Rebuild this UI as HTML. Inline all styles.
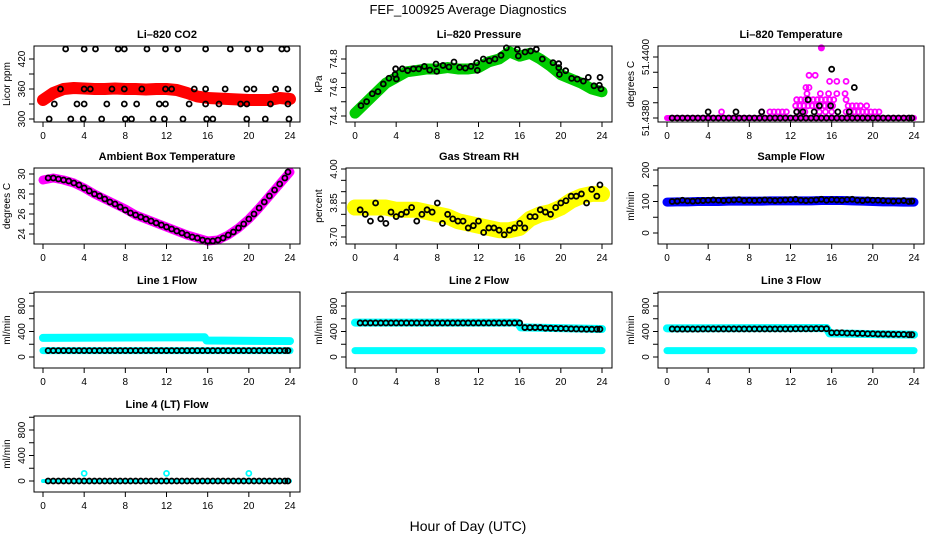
<!DOCTYPE html>
<html><head><meta charset="utf-8">
<style>
html,body{margin:0;padding:0;background:#fff;}
svg{display:block;font-family:"Liberation Sans",Arial,sans-serif;}
</style></head>
<body>
<svg id="chart" width="936" height="540" viewBox="0 0 936 540" xmlns="http://www.w3.org/2000/svg">
<rect width="936" height="540" fill="#fff"/>
<text x="468" y="14" text-anchor="middle" font-size="13">FEF_100925  Average Diagnostics</text>
<text x="468" y="531" text-anchor="middle" font-size="14">Hour of Day (UTC)</text>
</svg>
<script>
// ---------- data ----------
const hours=[0,4,8,12,16,20,24];
const bandT=[0,1,2,3,4,5,6,7,8,9,10,11,12,13,14,15,16,17,18,19,20,21,22,23,24];
const circT=[0.5,1,1.5,2,2.5,3,3.5,4,4.5,5,5.5,6,6.5,7,7.5,8,8.5,9,9.5,10,10.5,11,11.5,12,12.5,13,13.5,14,14.5,15,15.5,16,16.5,17,17.5,18,18.5,19,19.5,20,20.5,21,21.5,22,22.5,23,23.5,23.8];

const co2Band=[338,352,360,362,361,360,360,361,360,360,359,360,360,358,352,345,342,341,340,339,338,338,338,342,340];
const co2CircT=[2.2,4.0,5.1,7.3,7.9,10.1,11.9,13.1,15.8,18.2,19.9,21.1,23.2,23.7, 1.7,4.0,4.6,6.7,7.9,9.6,11.9,12.5,14.7,15.8,17.7,19.8,20.5,22.6,23.8, 1.1,3.3,4.0,6.2,7.9,9.1,11.3,11.9,14.2,15.8,17.1,19.2,19.8,22.1,23.8, 0.6,2.7,3.9,5.7,8.0,8.6,10.7,11.8,13.6,15.9,16.5,19.8,21.6,23.9];
const co2CircV=[440,440,440,440,440,440,440,440,440,440,440,440,440,440, 360,360,360,360,360,360,360,360,360,360,360,360,360,360,360, 330,330,330,330,330,330,330,330,330,330,330,330,330,330,330, 300,300,300,300,300,300,300,300,300,300,300,300,300,300];

const presBand=[74.42,74.49,74.56,74.63,74.67,74.71,74.72,74.73,74.73,74.74,74.73,74.73,74.74,74.78,74.80,74.85,74.82,74.84,74.80,74.75,74.69,74.66,74.63,74.59,74.57];
const presCircT=[0.58,1.13,1.68,2.23,2.75,3.30,3.89,3.95,4.02,4.60,5.12,5.67,6.19,6.74,7.26,7.87,7.94,8.55,9.13,9.62,10.17,10.72,11.27,11.82,11.89,12.47,13.05,13.60,14.19,14.71,15.77,15.87,16.52,17.07,17.62,18.20,19.24,19.79,19.8,19.86,20.47,21.05,21.60,22.19,22.67,23.22,23.74,23.81,23.90];
const presCircV=[74.473,74.501,74.556,74.571,74.625,74.665,74.691,74.731,74.66,74.731,74.719,74.731,74.731,74.748,74.722,74.765,74.713,74.755,74.744,74.779,74.741,74.736,74.748,74.774,74.720,74.800,74.788,74.800,74.826,74.878,74.868,74.821,74.849,74.856,74.868,74.800,74.774,74.767,74.739,74.692,74.718,74.664,74.659,74.645,74.671,74.612,74.616,74.671,74.591];

const tempBand=[51.438,51.438,51.438,51.438,51.438,51.438,51.438,51.438,51.438,51.438,51.438,51.438,51.438,51.438,51.438,51.438,51.438,51.438,51.438,51.438,51.438,51.438,51.438,51.438,51.438];
const tempMagT=[5.3,9.2,10.0,10.4,10.8,11.2,11.6,12.6,13.0,13.4,14.8,15.4,16.0,17.4,17.8,18.2,18.6,19.0,19.4,19.8,20.2,20.6, 12.5,12.9,13.3,13.7,14.1,14.5,14.9,15.3,15.7,16.1,17.6,18.0,18.4,18.8,19.4, 12.6,13.0,13.4,13.8,14.2,14.6,15.0,15.4,15.8,16.2,17.4, 13.6,14.9,15.7,16.5,17.3, 13.5,13.8, 15.8,16.5,17.4, 13.8,14.4];
const tempMagV=[51.4382,51.4382,51.4382,51.4382,51.4382,51.4382,51.4382,51.4382,51.4382,51.4382,51.4382,51.4382,51.4382,51.4382,51.4382,51.4382,51.4382,51.4382,51.4382,51.4382,51.4382,51.4382, 51.4384,51.4384,51.4384,51.4384,51.4384,51.4384,51.4384,51.4384,51.4384,51.4384,51.4384,51.4384,51.4384,51.4384,51.4384, 51.4386,51.4386,51.4386,51.4386,51.4386,51.4386,51.4386,51.4386,51.4386,51.4386,51.4386, 51.4388,51.4388,51.4388,51.4388,51.4388, 51.4390,51.4390, 51.4392,51.4392,51.4392, 51.4394,51.4394];
const tempBigT=[15.0];
const tempBigV=[51.4403];
const tempBlkT=[4.0,6.7,9.2,12.6,13.2,14.3,16.6,17.7,14.8,15.9,13.7,18.2,16.0];
const tempBlkV=[51.4382,51.4382,51.4382,51.4382,51.4382,51.4382,51.4382,51.4382,51.4384,51.4384,51.4386,51.4390,51.4396];
const tempBaseV=[51.438,51.438,51.438,51.438,51.438,51.438,51.438,51.438,51.438,51.438,51.438,51.438,51.438,51.438,51.438,51.438,51.438,51.438,51.438,51.438,51.438,51.438,51.438,51.438,51.438,51.438,51.438,51.438,51.438,51.438,51.438,51.438,51.438,51.438,51.438,51.438,51.438,51.438,51.438,51.438,51.438,51.438,51.438,51.438,51.438,51.438,51.438,51.438];

const ambBand=[29.4,29.6,29.4,29.1,28.6,28.0,27.5,27.0,26.5,25.9,25.5,25.1,24.7,24.3,23.9,23.6,23.3,23.4,23.9,24.6,25.5,26.6,27.8,29.0,30.2];
const ambCirc=[29.6,29.6,29.5,29.4,29.3,29.1,28.9,28.6,28.3,28.0,27.8,27.5,27.2,27.0,26.7,26.4,26.1,25.9,25.7,25.5,25.3,25.1,24.9,24.7,24.5,24.3,24.1,23.9,23.7,23.6,23.4,23.3,23.3,23.4,23.6,23.9,24.2,24.6,25.0,25.5,26.0,26.6,27.2,27.8,28.4,29.0,29.6,30.2];

const rhBand=[3.83,3.83,3.83,3.83,3.82,3.82,3.82,3.81,3.80,3.79,3.77,3.76,3.75,3.74,3.73,3.73,3.74,3.78,3.80,3.81,3.83,3.86,3.88,3.89,3.89];
const rhCirc=[3.82,3.80,3.77,3.85,3.78,3.76,3.81,3.79,3.80,3.81,3.83,3.77,3.80,3.82,3.81,3.85,3.76,3.80,3.78,3.77,3.77,3.74,3.75,3.77,3.72,3.74,3.74,3.73,3.71,3.73,3.74,3.76,3.74,3.79,3.79,3.82,3.81,3.80,3.83,3.85,3.86,3.88,3.88,3.89,3.85,3.91,3.88,3.93];

const sfBand=[98,99,99,100,100,100,101,101,101,101,102,102,102,102,102,103,103,103,102,101,100,99,99,98,98];
const sfCirc=[100,101,104,102,101,102,103,104,105,104,103,104,105,106,103,104,103,104,105,104,103,104,105,106,107,104,103,104,105,107,104,106,105,104,106,107,104,103,105,104,104,103,102,101,102,103,100,101];

const l1UpT=[0,15.7,15.9,24], l1UpV=[300,310,258,250];
const l1LoT=[0,24], l1LoV=[100,100];
const l1Circ=[100,100,100,100,100,100,100,100,100,100,100,100,100,100,100,100,100,100,100,100,100,100,100,100,100,100,100,100,100,100,100,100,100,100,100,100,100,100,100,100,100,100,100,100,100,100,100,100];
const l2UpT=[0,15.8,16.1,24], l2UpV=[540,540,465,440];
const l2LoT=[0,24], l2LoV=[100,100];
const l2Circ=[534,534,534,534,534,534,534,534,534,534,534,534,534,534,534,534,534,534,534,534,534,534,534,534,534,534,534,534,534,534,534,534,462,462,462,462,452,452,448,448,445,442,440,438,436,436,436,436];
const l3UpT=[0,15.5,15.8,24], l3UpV=[450,455,370,350];
const l3LoT=[0,24], l3LoV=[100,100];
const l3Circ=[440,438,438,438,438,438,440,440,440,440,440,440,440,440,440,440,440,440,440,440,440,440,440,440,442,442,442,442,444,444,444,380,380,380,375,375,370,370,365,365,360,360,358,356,355,355,350,350];
const l4T=[0,24], l4V=[0,0];
const l4ExT=[4,12,20], l4ExV=[120,120,120];
const l4Circ=[0,0,0,0,0,0,0,0,0,0,0,0,0,0,0,0,0,0,0,0,0,0,0,0,0,0,0,0,0,0,0,0,0,0,0,0,0,0,0,0,0,0,0,0,0,0,0,0];

// ---------- drawing ----------
const svg=document.getElementById('chart');
const NS='http://www.w3.org/2000/svg';
function mk(tag,attrs,parent){const e=document.createElementNS(NS,tag);for(const k in attrs)e.setAttribute(k,attrs[k]);(parent||svg).appendChild(e);return e;}

const colL=[34,346,658], rowT=[46,168,292,416], BW=266, BH=76;

function panel(cfg){
  const L=colL[cfg.col], T=rowT[cfg.row];
  const g=mk('g',{});
  
  
  const xs=t=>L+9+t*(247/24);
  const ys=v=>T+cfg.p0+(v-cfg.v0)*(cfg.p1-cfg.p0)/(cfg.v1-cfg.v0);
  cfg.draw(g,xs,ys);
  const box=mk('rect',{x:L,y:T,width:BW,height:BH,fill:'none',stroke:'#000','stroke-width':1},g);
  
  
  const tt=mk('text',{x:L+BW/2,y:T-8,'text-anchor':'middle','font-size':11,'font-weight':'bold'},g);
  tt.textContent=cfg.title;
  
  
  const xa=mk('g',{},g);
  
  
  mk('line',{x1:xs(0),x2:xs(24),y1:T+BH,y2:T+BH,stroke:'#000'},xa);
  hours.forEach(h=>{
    mk('line',{x1:xs(h),x2:xs(h),y1:T+BH,y2:T+BH+5,stroke:'#000'},xa);
    const t=mk('text',{x:xs(h),y:T+BH+17,'text-anchor':'middle','font-size':10},xa);t.textContent=h;
  });
  const ya=mk('g',{},g);
  
  
  const tk=cfg.ticks;
  mk('line',{x1:L,x2:L,y1:ys(tk[0]),y2:ys(tk[tk.length-1]),stroke:'#000'},ya);
  tk.forEach(v=>{mk('line',{x1:L,x2:L-5,y1:ys(v),y2:ys(v),stroke:'#000'},ya);});
  cfg.labels.forEach((v,i)=>{
    const y=ys(v), x=L-9;
    const t=mk('text',{x:x,y:y,'text-anchor':'middle','font-size':10,transform:`rotate(-90 ${x} ${y})`},ya);
    t.textContent=cfg.labelText[i];
  });
  const yt=mk('text',{x:L-24,y:T+BH/2,'text-anchor':'middle','font-size':10,transform:`rotate(-90 ${L-24} ${T+BH/2})`},g);
  yt.textContent=cfg.ytitle;
  
  
}

function band(g,xs,ys,T,V,color,w,name){
  const p=mk('polyline',{points:T.map((t,i)=>xs(t)+','+ys(V[i])).join(' '),fill:'none',stroke:color,'stroke-width':w,'stroke-linejoin':'round','stroke-linecap':'round'},g);
  
  
}
function circles(g,xs,ys,T,V,color,name,r){
  T.forEach((t,i)=>{
    const c=mk('circle',{cx:xs(t),cy:ys(V[i]),r:r||2.5,fill:'none',stroke:color,'stroke-width':1.8},g);
    
    
  });
}

panel({name:'panel-co2',col:0,row:0,title:'Li\u2013820 CO2',ytitle:'Licor ppm',v0:300,p0:73,v1:420,p1:13,
 ticks:[300,330,360,390,420],labels:[300,360,420],labelText:['300','360','420'],
 draw:(g,xs,ys)=>{band(g,xs,ys,bandT,co2Band,'#ff0000',12,'co2-band');circles(g,xs,ys,co2CircT,co2CircV,'#000','co2-point');}});
panel({name:'panel-pressure',col:1,row:0,title:'Li\u2013820 Pressure',ytitle:'kPa',v0:74.4,p0:70,v1:74.8,p1:13,
 ticks:[74.4,74.5,74.6,74.7,74.8],labels:[74.4,74.6,74.8],labelText:['74.4','74.6','74.8'],
 draw:(g,xs,ys)=>{band(g,xs,ys,bandT,presBand,'#00cc00',11,'pressure-band');circles(g,xs,ys,presCircT,presCircV,'#000','pressure-point');}});
panel({name:'panel-temperature',col:2,row:0,title:'Li\u2013820 Temperature',ytitle:'degrees C',v0:51.438,p0:72,v1:51.44,p1:11,
 ticks:[51.438,51.4385,51.439,51.4395,51.44],labels:[51.438,51.44],labelText:['51.4380','51.4400'],
 draw:(g,xs,ys)=>{band(g,xs,ys,bandT,tempBand,'#ff00ff',6,'temperature-band');circles(g,xs,ys,tempMagT,tempMagV,'#ff00ff','temperature-point');
  circles(g,xs,ys,circT,tempBaseV,'#000','temperature-avg-point');circles(g,xs,ys,tempBlkT,tempBlkV,'#000','temperature-avg-point');
  tempBigT.forEach((t,i)=>{const c=mk('circle',{cx:xs(t),cy:ys(tempBigV[i]),r:3.5,fill:'#ff00ff'},g);});}});
panel({name:'panel-ambient',col:0,row:1,title:'Ambient Box Temperature',ytitle:'degrees C',v0:24,p0:66,v1:30,p1:6,
 ticks:[24,25,26,27,28,29,30],labels:[24,26,28,30],labelText:['24','26','28','30'],
 draw:(g,xs,ys)=>{band(g,xs,ys,bandT,ambBand,'#ff00ff',9,'ambient-band');circles(g,xs,ys,circT,ambCirc,'#000','ambient-point');}});
panel({name:'panel-rh',col:1,row:1,title:'Gas Stream RH',ytitle:'percent',v0:3.70,p0:69,v1:4.00,p1:1,
 ticks:[3.70,3.75,3.80,3.85,3.90,3.95,4.00],labels:[3.70,3.85,4.00],labelText:['3.70','3.85','4.00'],
 draw:(g,xs,ys)=>{band(g,xs,ys,bandT,rhBand,'#ffff00',16,'rh-band');circles(g,xs,ys,circT,rhCirc,'#000','rh-point');}});
panel({name:'panel-sample-flow',col:2,row:1,title:'Sample Flow',ytitle:'ml/min',v0:0,p0:65,v1:200,p1:2,
 ticks:[0,50,100,150,200],labels:[0,100,200],labelText:['0','100','200'],
 draw:(g,xs,ys)=>{band(g,xs,ys,bandT,sfBand,'#0000ff',9,'sample-flow-band');circles(g,xs,ys,circT,sfCirc,'#000','sample-flow-point');}});
const flowAxis={v0:0,p0:65,v1:800,p1:14,ticks:[0,200,400,600,800,1000],labels:[0,400,800],labelText:['0','400','800'],ytitle:'ml/min'};
panel(Object.assign({name:'panel-line1',col:0,row:2,title:'Line 1 Flow',
 draw:(g,xs,ys)=>{band(g,xs,ys,l1UpT,l1UpV,'#00ffff',8,'line1-upper-band');band(g,xs,ys,l1LoT,l1LoV,'#00ffff',7,'line1-lower-band');circles(g,xs,ys,circT,l1Circ,'#000','line1-point');}},flowAxis));
panel(Object.assign({name:'panel-line2',col:1,row:2,title:'Line 2 Flow',
 draw:(g,xs,ys)=>{band(g,xs,ys,l2UpT,l2UpV,'#00ffff',8,'line2-upper-band');band(g,xs,ys,l2LoT,l2LoV,'#00ffff',7,'line2-lower-band');circles(g,xs,ys,circT,l2Circ,'#000','line2-point');}},flowAxis));
panel(Object.assign({name:'panel-line3',col:2,row:2,title:'Line 3 Flow',
 draw:(g,xs,ys)=>{band(g,xs,ys,l3UpT,l3UpV,'#00ffff',8,'line3-upper-band');band(g,xs,ys,l3LoT,l3LoV,'#00ffff',7,'line3-lower-band');circles(g,xs,ys,circT,l3Circ,'#000','line3-point');}},flowAxis));
panel(Object.assign({name:'panel-line4',col:0,row:3,title:'Line 4 (LT) Flow',
 draw:(g,xs,ys)=>{band(g,xs,ys,l4T,l4V,'#00ffff',4,'line4-band');circles(g,xs,ys,l4ExT,l4ExV,'#00ffff','line4-spike');circles(g,xs,ys,circT,l4Circ,'#000','line4-point');}},flowAxis));
</script>
</body></html>
